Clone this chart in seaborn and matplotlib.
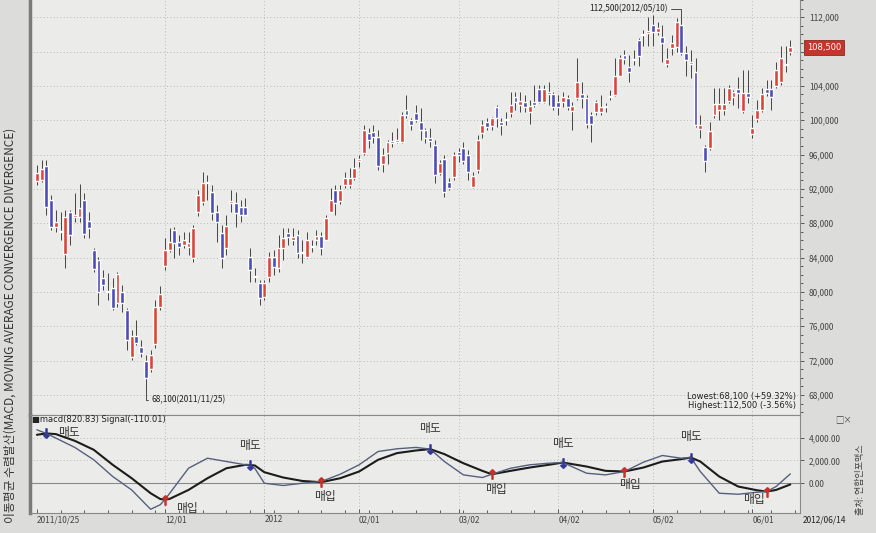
import numpy as np
import pandas as pd
import seaborn as sns
import matplotlib.pyplot as plt
from matplotlib.ticker import FixedLocator, MultipleLocator

# daily candles (won), 2011/10/25 ~ 2012/06/14
opens = [92900, 93000, 94700, 90700, 87600, 87100, 84400, 89300, 88700, 88700,
         90700, 88300, 84900, 83700, 81600, 80100, 80500, 78700, 80000, 77900,
         72400, 74900, 73600, 72000, 71000, 73900, 78200, 83000, 84900, 87200,
         85800, 85500, 85200, 83900, 89300, 90500, 92800, 91600, 89300, 86900,
         85100, 90400, 90300, 89900, 89900, 84100, 81800, 81000, 79400, 81700,
         84100, 82800, 85100, 86900, 86000, 86600, 84500, 84100, 85300, 86000,
         86500, 86000, 89300, 91900, 90600, 92400, 92400, 93300, 95300, 96200,
         98500, 98600, 98000, 94900, 96200, 97500, 97500, 97500, 101200, 100000,
         100800, 99800, 98800, 97900, 97100, 93800, 95500, 92800, 93400, 96300,
         96800, 95900, 92200, 94200, 98500, 99800, 99300, 101500, 99800, 100000,
         100800, 102700, 101800, 102100, 100900, 102100, 103600, 102100, 103200, 103000,
         102100, 102100, 102600, 101100, 102600, 103000, 102600, 100600, 100900, 100900,
         101500, 102700, 102900, 105200, 107600, 106200, 107000, 109300, 109900, 110200,
         111100, 110300, 109700, 106600, 108400, 108500, 111100, 107800, 106600, 105600,
         99000, 96900, 96800, 100600, 101200, 101200, 102200, 102700, 103600, 101100,
         103200, 98400, 100100, 101200, 103600, 103600, 104000, 104400, 106400, 107900]
highs = [94800, 95400, 95400, 91300, 89500, 89300, 89500, 89500, 91500, 92600,
         91500, 89300, 85100, 84100, 82600, 82200, 81600, 82300, 80800, 78100,
         75600, 76700, 74400, 72700, 73200, 79100, 80700, 86300, 87400, 87600,
         86600, 87000, 87000, 87800, 91900, 94000, 93600, 92400, 90100, 87800,
         89000, 91900, 91600, 90700, 90900, 85100, 82800, 81400, 81400, 84600,
         84900, 86600, 87400, 87400, 87400, 87200, 86000, 87000, 86000, 87200,
         87000, 89000, 92100, 92400, 92400, 94000, 94400, 95600, 95900, 99400,
         99100, 99400, 98800, 96800, 97700, 98600, 99100, 100900, 102900, 100200,
         101800, 101400, 99100, 99100, 97700, 95400, 95900, 93300, 96300, 96800,
         97500, 96500, 94000, 98300, 100000, 100200, 100400, 101800, 100200, 100900,
         103300, 103300, 103300, 102900, 102300, 104100, 104100, 104100, 104400, 103300,
         102900, 103300, 102900, 102100, 107200, 104400, 102900, 100900, 102300, 102900,
         102000, 103500, 107200, 107600, 108200, 107600, 108200, 109600, 110500, 112000,
         112200, 111400, 111100, 108400, 109900, 111900, 112500, 108700, 108200, 107300,
         100600, 97100, 99800, 103700, 103700, 103700, 104100, 103500, 105000, 105800,
         105800, 100600, 102300, 103800, 104700, 104700, 106800, 108700, 108700, 109300]
lows = [92400, 92800, 89000, 87200, 87000, 86000, 82800, 85500, 88100, 88100,
        86300, 86300, 82300, 78500, 80200, 79100, 77900, 78200, 77700, 73200,
        72100, 73800, 72400, 68100, 70700, 73500, 77900, 82600, 84600, 84000,
        84300, 85100, 84300, 83500, 88800, 90100, 90700, 88400, 85800, 82800,
        84300, 89300, 87600, 88100, 89000, 81200, 81200, 78500, 79100, 81200,
        82000, 82300, 83700, 85500, 85500, 83900, 83400, 83900, 84700, 85500,
        84300, 86000, 89300, 89000, 90200, 92100, 92100, 93000, 94500, 95900,
        96800, 97300, 94200, 94000, 94900, 96900, 97400, 97400, 100200, 98800,
        99800, 97700, 97400, 96900, 92700, 93600, 91000, 91900, 93000, 95100,
        94900, 93000, 92100, 93800, 97900, 98800, 98800, 99200, 98300, 99400,
        100400, 101200, 100900, 100900, 99500, 101500, 102000, 102000, 101800, 101200,
        100600, 101500, 101200, 98800, 102300, 101400, 99100, 97500, 100600, 100600,
        100900, 102300, 102800, 105100, 106600, 104400, 106400, 106300, 108700, 108700,
        108700, 109900, 106800, 106200, 107600, 107900, 107600, 105200, 104900, 99200,
        97900, 94000, 96500, 100200, 100000, 100600, 102000, 101800, 101400, 100800,
        102000, 97900, 99800, 100900, 102800, 101200, 103700, 104100, 105600, 107600]
closes = [93800, 94300, 89900, 87600, 88100, 87000, 88700, 86600, 89000, 89800,
          86700, 87400, 82700, 80000, 80800, 80000, 78100, 82100, 78700, 74400,
          74900, 74100, 72900, 70000, 72700, 78200, 79800, 84900, 85800, 85700,
          85200, 86000, 85700, 87400, 91300, 92700, 92700, 89200, 88100, 83900,
          87700, 90500, 89200, 89000, 89000, 82600, 81700, 79300, 81000, 84100,
          82900, 85100, 86300, 86400, 86400, 84500, 84600, 86000, 85200, 86500,
          85100, 88600, 90700, 90400, 91900, 93300, 93300, 94400, 95400, 98800,
          97700, 98000, 94700, 95900, 97500, 97400, 97600, 100600, 100600, 99400,
          100000, 98800, 97900, 97600, 93600, 95000, 91600, 92100, 95900, 95900,
          95200, 94000, 93500, 97700, 99400, 99200, 100200, 100200, 99400, 100100,
          101800, 102100, 102200, 101500, 101600, 101800, 102100, 103600, 103100, 101500,
          101500, 102700, 101500, 101600, 104400, 102600, 99500, 99500, 102100, 101500,
          101600, 102800, 105200, 107200, 107100, 105600, 107100, 107500, 110000, 110300,
          110300, 110700, 109000, 107100, 109000, 111400, 107800, 107000, 106700, 99400,
          99400, 95200, 98700, 101900, 101900, 101900, 103700, 103300, 103200, 103200,
          102700, 99100, 101200, 103100, 103200, 102700, 105800, 107200, 106500, 108500]

# KRX closed days in the period
holidays = ['2011-12-30', '2012-01-23', '2012-01-24', '2012-03-01',
            '2012-04-11', '2012-05-01', '2012-05-28', '2012-06-06']
dates = pd.bdate_range('2011-10-25', '2012-06-14', freq='C', holidays=holidays)

tick_dates = ['2011-10-25', '2011-12-01', '2012-01-02', '2012-02-01',
              '2012-03-02', '2012-04-02', '2012-05-02', '2012-06-01']
tick_labels = ['2011/10/25', '12/01', '2012', '02/01', '03/02', '04/02', '05/02', '06/01']

# MACD panel
macd_idx = [0, 2, 4, 8, 12, 16, 20, 24, 26, 27, 28, 32, 36, 40, 44, 45, 46, 48, 52, 56,
            60, 64, 68, 72, 76, 80, 83, 86, 90, 94, 96, 100, 104, 108, 111, 116, 120,
            124, 128, 132, 136, 138, 140, 144, 148, 152, 154, 156, 159]
macd = [4700, 4380, 3970, 3150, 2060, 590, -590, -2290, -1900, -1450, -900, 1320, 2200,
        1910, 1620, 1600, 1300, 0, -200, 0, 150, 790, 1620, 2790, 3030, 3150, 3000, 1910,
        735, 500, 790, 1320, 1620, 1760, 1820, 880, 735, 1030, 1850, 2440, 2200, 2260,
        1030, -880, -970, -790, -735, -290, 820.83]
signal = [4260, 4380, 4320, 3730, 2940, 1620, 440, -880, -1380, -1450, -1380, -590, 440,
          1320, 1620, 1600, 1560, 970, 500, 200, 90, 440, 1030, 2060, 2650, 2880, 3000,
          2560, 1760, 1090, 790, 1090, 1380, 1620, 1820, 1470, 1090, 1030, 1380, 1910,
          2120, 2260, 1910, 590, -290, -620, -735, -590, -110.01]
sell_idx = [2, 45, 83, 111, 138]
buy_idx = [27, 60, 96, 124, 154]

sns.set_theme(style='white')
plt.rcParams['font.family'] = ['Noto Sans CJK KR', 'DejaVu Sans']
plt.rcParams['axes.unicode_minus'] = False

red = '#d9453b'
blue = '#4b4db8'
grid_kw = dict(color='#a8a8a8', lw=0.6, ls=(0, (1, 3)))

o = np.array(opens)
h = np.array(highs)
l = np.array(lows)
c = np.array(closes)
x = np.arange(len(c))
up = c >= o

fig = plt.figure(figsize=(8.76, 5.33), dpi=100, facecolor='#dcdcda')
ax1 = fig.add_axes([0.034, 0.222, 0.879, 0.778], facecolor='#ebebe9')
ax2 = fig.add_axes([0.034, 0.0375, 0.879, 0.1845], facecolor='#ebebe9', sharex=ax1)

tick_pos = [dates.get_loc(pd.Timestamp(d)) for d in tick_dates]

# ---- price panel
for y in range(68000, 112001, 4000):
    ax1.axhline(y, zorder=0, **grid_kw)
for p in tick_pos[1:]:
    ax1.axvline(p, zorder=0, **grid_kw)
    ax2.axvline(p, zorder=0, **grid_kw)

ax1.vlines(x, l, h, color='#444444', lw=0.7, zorder=2)
body = np.maximum(np.abs(c - o), 150)
base = np.minimum(o, c)
ax1.bar(x[up], body[up], bottom=base[up], width=0.82, color=red, zorder=3)
ax1.bar(x[~up], body[~up], bottom=base[~up], width=0.82, color=blue, zorder=3)

last = c[-1]
ax1.set_xlim(-1.5, len(c) + 1)
ax1.set_ylim(65700, 114000)
ax1.yaxis.tick_right()
price_ticks = list(range(68000, 112001, 4000))
ax1.set_yticks(price_ticks)
# the 108,000 label sits under the current-price box
ax1.set_yticklabels(['' if abs(v - last) < 1500 else f'{v:,}' for v in price_ticks],
                    fontsize=6, color='#333')
ax1.yaxis.set_minor_locator(MultipleLocator(1000))
ax1.tick_params(axis='y', which='both', direction='out', right=True, length=3, width=0.6, colors='#444')
ax1.tick_params(axis='y', which='minor', length=2)
ax1.tick_params(axis='x', bottom=False, labelbottom=False)

hi_i = int(np.argmax(h))
lo_i = int(np.argmin(l))
conn = dict(arrowstyle='-', color='#333', lw=0.6, shrinkA=0, shrinkB=0,
            connectionstyle='angle,angleA=0,angleB=90,rad=0')
ax1.annotate(f'{h[hi_i]:,}({dates[hi_i]:%Y/%m/%d})', xy=(hi_i, h[hi_i]), xytext=(-10, 3),
             textcoords='offset points', ha='right', va='center', fontsize=6,
             color='#222', arrowprops=conn)
ax1.annotate(f'{l[lo_i]:,}({dates[lo_i]:%Y/%m/%d})', xy=(lo_i, l[lo_i]), xytext=(4, -4),
             textcoords='offset points', ha='left', va='center', fontsize=6,
             color='#222', arrowprops=conn)
ax1.text(0.995, 0.012,
         f'Lowest:{l[lo_i]:,} (+{(last / l[lo_i] - 1) * 100:.2f}%)\n'
         f'Highest:{h[hi_i]:,} ({(last / h[hi_i] - 1) * 100:.2f}%)',
         transform=ax1.transAxes, ha='right', va='bottom', fontsize=6,
         color='#222', linespacing=0.95, family='DejaVu Sans')
ax1.annotate(f'{last:,}', xy=(1, last), xycoords=('axes fraction', 'data'),
             xytext=(5, 0), textcoords='offset points', ha='left', va='center',
             fontsize=6, color='white', family='DejaVu Sans',
             bbox=dict(boxstyle='square,pad=0.35', fc='#c4362c', ec='#8a2a22', lw=0.6))

# ---- MACD panel
ax2.axhline(0, color='#8a8a8a', lw=0.8, zorder=1)
for y in (2000, 4000):
    ax2.axhline(y, zorder=0, **grid_kw)
sns.lineplot(x=macd_idx, y=macd, ax=ax2, color='#55607e', lw=1.0, zorder=3)
sns.lineplot(x=macd_idx, y=signal, ax=ax2, color='#1c1c1c', lw=1.5, zorder=2)

sig_s = pd.Series(signal, index=macd_idx)
sell_y = [sig_s[i] for i in sell_idx]
buy_y = [sig_s[i] for i in buy_idx]
ax2.scatter(sell_idx, sell_y, marker='$\u2193$', s=45, color='#33379a', zorder=5)
ax2.scatter(buy_idx, buy_y, marker='$\u2191$', s=45, color='#cc2f2a', zorder=5)

sell_off = [(16, 1), (0, 14), (0, 15), (0, 14), (0, 15)]
buy_off = [(16, -6), (3, -10), (3, -11), (4, -9), (-9, -6)]
for i, yv, off in zip(sell_idx, sell_y, sell_off):
    ax2.annotate('매도', xy=(i, yv), xytext=off, textcoords='offset points',
                 ha='center', va='center', fontsize=8.5, color='#333')
for i, yv, off in zip(buy_idx, buy_y, buy_off):
    ax2.annotate('매입', xy=(i, yv), xytext=off, textcoords='offset points',
                 ha='center', va='center', fontsize=8.5, color='#333')

ax2.text(0.003, 0.995, f'\u25a0macd({macd[-1]:.2f}) Signal({signal[-1]:.2f})',
         transform=ax2.transAxes, ha='left', va='top', fontsize=6, color='#222',
         family='DejaVu Sans')
ax2.set_ylim(-2620, 6030)
ax2.yaxis.tick_right()
ax2.set_yticks([0, 2000, 4000])
ax2.set_yticklabels(['0.00', '2,000.00', '4,000.00'], fontsize=6, color='#333')
ax2.set_ylabel('')
ax2.tick_params(axis='y', direction='out', length=3, width=0.6, colors='#444')

ax2.xaxis.set_major_locator(FixedLocator(tick_pos))
ax2.set_xticklabels(tick_labels, fontsize=6, color='#222', ha='left')
ax2.xaxis.set_minor_locator(MultipleLocator(5))
ax2.tick_params(axis='x', which='both', direction='in', bottom=True, length=3,
                width=0.6, colors='#444', pad=1.5)
ax2.tick_params(axis='x', which='minor', length=2)

for ax in (ax1, ax2):
    for s in ax.spines.values():
        s.set_color('#8a8a8a')
        s.set_linewidth(0.8)
    ax.spines['left'].set_color('#7a7a7a')
    ax.spines['left'].set_linewidth(2.5)
    ax.grid(False)
ax1.spines['top'].set_visible(False)

fig.text(0.916, 0.024, '2012/06/14', fontsize=6, color='#222', ha='left', va='center')
fig.text(0.963, 0.212, '\u25a1\u00d7', fontsize=6, color='#444', ha='center', va='center')
fig.text(0.012, 0.39, '이동평균 수렴발산(MACD, MOVING AVERAGE CONVERGENCE DIVERGENCE)',
         rotation=90, ha='center', va='center', fontsize=8.5, color='#333')
fig.text(0.982, 0.1, '출처: 연합인포맥스', rotation=90, ha='center', va='center',
         fontsize=6.5, color='#444')

fig.savefig('out.png', dpi=100, facecolor=fig.get_facecolor())
